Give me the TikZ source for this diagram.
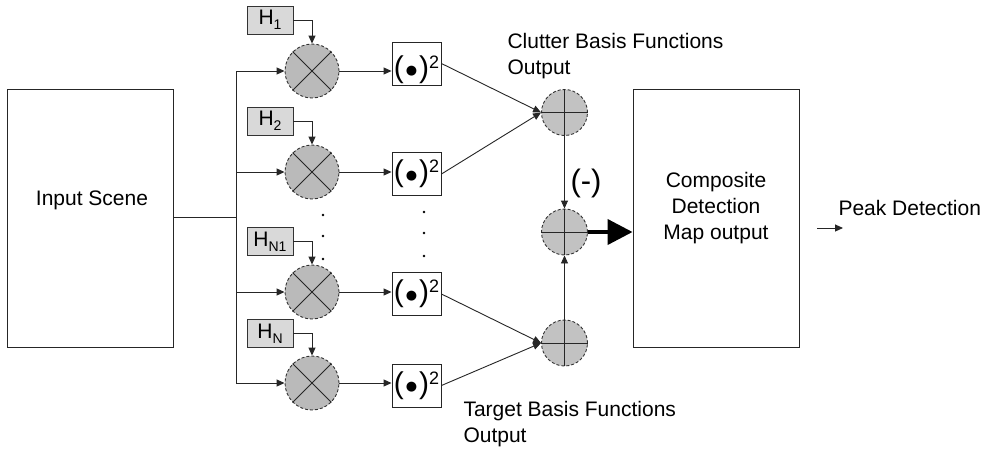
\documentclass[tikz,border=0pt]{standalone}
\usepackage{fontspec}
\setmainfont{Liberation Sans}
\newfontfamily\dejavu{DejaVu Sans}
\usetikzlibrary{arrows.meta}
\newcommand{\sqcontent}{{\fontsize{30}{30}\selectfont(}\kern2pt\raisebox{2.5pt}{\dejavu\fontsize{13}{13}\selectfont ●}\kern2pt{\fontsize{30}{30}\selectfont)}\raisebox{9pt}{\fontsize{18}{18}\selectfont 2}}
\newcommand{\hlab}[1]{H\raisebox{-5pt}{\fontsize{14}{14}\selectfont #1}}
\begin{document}
\begin{tikzpicture}[x=1pt,y=-1pt,
  every node/.style={font=\fontsize{21}{26}\selectfont},
  line/.style={draw=black!85, line width=0.9pt},
  arr/.style={line, -{Triangle[length=8pt,width=7pt]}},
  mult/.style={circle, draw=black!80, fill=black!27, densely dashed, line width=0.9pt, minimum size=54pt, inner sep=0pt},
  summ/.style={circle, draw=black!80, fill=black!24, densely dashed, line width=0.9pt, minimum size=46pt, inner sep=0pt},
  hbox/.style={draw=black!80, fill=black!15, line width=0.9pt, minimum width=46pt, minimum height=28pt, inner sep=0pt},
  sqbox/.style={draw=black!85, line width=0.9pt, minimum width=49pt, minimum height=43pt, inner sep=0pt},
  bigbox/.style={draw=black!85, line width=0.9pt, minimum width=166pt, minimum height=258pt, inner sep=0pt},
  dot/.style={fill=black, circle, inner sep=0pt, minimum size=2.6pt}
]
\path[use as bounding box, fill=white] (0,0) rectangle (987,451);

% big boxes
\node[bigbox] (in) at (90,218) {};
\node (intext) at (92,200) {Input Scene};
\node[bigbox] (comp) at (716,218) {};
\node[align=center] (comptext) at (716,208) {Composite\\Detection\\Map output};

% multipliers
\node[mult] (m1) at (312,71) {};
\node[mult] (m2) at (312,172) {};
\node[mult] (m3) at (312,292) {};
\node[mult] (m4) at (312,383) {};
\foreach \m in {m1,m2,m3,m4}{
  \draw[line] (\m.45) -- (\m.225);
  \draw[line] (\m.135) -- (\m.315);
}

% H boxes
\node[hbox] (h1) at (270,20) {\hlab{1}};
\node[hbox] (h2) at (270,121) {\hlab{2}};
\node[hbox] (h3) at (270,241.5) {\hlab{N1}};
\node[hbox] (h4) at (270,333.5) {\hlab{N}};
\draw[arr] (h1.east) -| (m1.north);
\draw[arr] (h2.east) -| (m2.north);
\draw[arr] (h3.east) -| (m3.north);
\draw[arr] (h4.east) -| (m4.north);

% squares
\node[sqbox] (s1) at (416.5,63.5) {\raisebox{-6pt}[\height][\depth]{\sqcontent}};
\node[sqbox] (s2) at (416.5,174) {\sqcontent};
\node[sqbox] (s3) at (416.5,294) {\sqcontent};
\node[sqbox] (s4) at (416.5,385.5) {\sqcontent};
\foreach \i in {1,2,3,4}{
  \draw[arr] (m\i.east) -- (m\i.east -| s\i.west);
}

% bus
\coordinate (bt) at (236,71);
\coordinate (bb) at (236,383);
\coordinate (bin) at (236,217);
\draw[line] (in.east |- bin) -- (bin);
\draw[line] (bt) -- (bb);
\foreach \i in {1,2,3,4}{
  \draw[arr] (bt |- m\i.west) -- (m\i.west);
}

% dots
\foreach \y in {215,236,259}{ \node[dot] at (323,\y) {}; }
\foreach \y in {212,233,256}{ \node[dot] at (424,\y) {}; }

% sums
\node[summ] (c1) at (564.5,112.5) {};
\node[summ] (c2) at (564.5,232) {};
\node[summ] (c3) at (564.5,343) {};
\foreach \c in {c1,c2,c3}{
  \draw[line] (\c.north) -- (\c.south);
  \draw[line] (\c.west) -- (\c.east);
}
\draw[arr] (s1.east) -- (c1.west);
\draw[arr] (s2.east) -- (c1.west);
\draw[arr] (s3.east) -- (c3.west);
\draw[arr] (s4.east) -- (c3.west);
\draw[arr] (c1.south) -- (c2.north);
\draw[arr] (c3.north) -- (c2.south);
\draw[draw=black, line width=4pt, -{Triangle[length=25pt,width=25pt]}] (c2.east) -- (c2.east -| comp.west);

% labels
\node[font=\fontsize{31}{31}\selectfont] (minus) at (586,183) {(-)};
\node[align=left, anchor=west] (clab) at (504,56) {Clutter Basis Functions\\Output};
\node[align=left, anchor=west] (tlab) at (460,424) {Target Basis Functions\\Output};
\node[anchor=west] (peak) at (835,208) {Peak Detection};
\coordinate (pa) at (817,228);
\coordinate (pb) at (843,228);
\draw[arr] (pa) -- (pb);
\end{tikzpicture}
\end{document}
